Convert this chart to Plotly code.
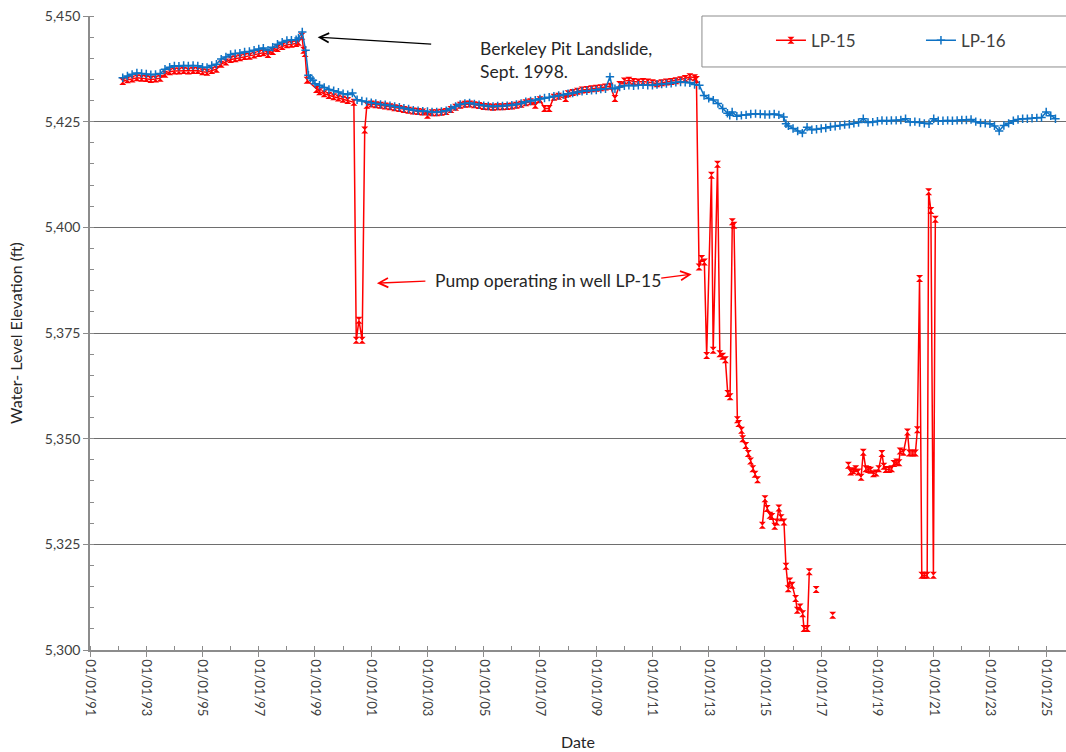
"""Water-level elevation history for wells LP-15 and LP-16."""

import plotly.graph_objects as go

# LP-15 (red) - None breaks the line where the record has gaps
lp15_dates = [
    "1992-03", "1992-05", "1992-07", "1992-09", "1992-11",
    "1993-01", "1993-03", "1993-05", "1993-07", "1993-09", "1993-11",
    "1994-01", "1994-03", "1994-05", "1994-07", "1994-09", "1994-11",
    "1995-01", "1995-03", "1995-05", "1995-07", "1995-09", "1995-11",
    "1996-01", "1996-03", "1996-05", "1996-07", "1996-09", "1996-11",
    "1997-01", "1997-03", "1997-05", "1997-07", "1997-09", "1997-11",
    "1998-01", "1998-03", "1998-05", "1998-06", "1998-07-15", "1998-08-07", "1998-08-25", "1998-09-20",
    "1999-01-20", "1999-03", "1999-05", "1999-07", "1999-09", "1999-11",
    "2000-01", "2000-03", "2000-05-20", "2000-06-20", "2000-07-25", "2000-09-05", "2000-10-08", "2000-11-05",
    "2001-01", "2001-03", "2001-05", "2001-07", "2001-09", "2001-11",
    "2002-01", "2002-03", "2002-05", "2002-07", "2002-09", "2002-11",
    "2003-01", "2003-03", "2003-05", "2003-07", "2003-09", "2003-11",
    "2004-01", "2004-03", "2004-05", "2004-07", "2004-09", "2004-11",
    "2005-01", "2005-03", "2005-05", "2005-07", "2005-09", "2005-11",
    "2006-01", "2006-03", "2006-05", "2006-07", "2006-09", "2006-11",
    "2007-01", "2007-03", "2007-05", "2007-07", "2007-09", "2007-12",
    "2008-01", "2008-03", "2008-05", "2008-07", "2008-09", "2008-11",
    "2009-01", "2009-03", "2009-05", "2009-07", "2009-09", "2009-11",
    "2010-01", "2010-03", "2010-05", "2010-07", "2010-09", "2010-11",
    "2011-01", "2011-03", "2011-05", "2011-07", "2011-09", "2011-11",
    "2012-01", "2012-03", "2012-05", "2012-07", "2012-07-25", "2012-08-28", "2012-10-01", "2012-11-05", "2012-12-05",
    "2013-02-05", "2013-02-28", "2013-04-25", "2013-05-25", "2013-07-01", "2013-08-05", "2013-09-05", "2013-10-05",
    "2013-11-03", "2013-11-25",
    "2014-01-08", "2014-01-26", "2014-03-03", "2014-03-18", "2014-04-27", "2014-05-30", "2014-06-28", "2014-07-27",
    "2014-08-25", "2014-09-27", "2014-10-20", "2014-11-28",
    "2015-01-01", "2015-01-30", "2015-03-08", "2015-04-02", "2015-05-08", "2015-06-03", "2015-07-01", "2015-07-30",
    "2015-09-05", "2015-10-01", "2015-10-30", "2015-11-20", "2015-12-20",
    "2016-02-03", "2016-02-25", "2016-04-01", "2016-05-05", "2016-05-22", "2016-07-05", "2016-07-30", "2016-09-01",
    "2016-10-27",
    "2017-01-01", "2017-05-30", "2017-09-01", "2017-12-20",
    "2018-01-18", "2018-02-20", "2018-03-25", "2018-04-26", "2018-06-03", "2018-07-01", "2018-08-03", "2018-09-05",
    "2018-10-05", "2018-11-10", "2018-12-15",
    "2019-01-18", "2019-02-28", "2019-03-25", "2019-04-20", "2019-05-30", "2019-07-05", "2019-08-03", "2019-09-08",
    "2019-10-08", "2019-10-22", "2019-12-05",
    "2020-01-26", "2020-02-20", "2020-04-01", "2020-05-08", "2020-06-03", "2020-07-01", "2020-07-30", "2020-09-01",
    "2020-10-08", "2020-10-27", "2020-11-25", "2020-12-28",
    "2021-01-22",
]
lp15_elev = [
    5434.5, 5434.9, 5435.1, 5435.4, 5435.3,
    5435.2, 5435.0, 5435.1, 5435.3, 5436.2, 5436.8,
    5437.0, 5437.0, 5437.1, 5437.0, 5437.1, 5437.1,
    5436.8, 5436.7, 5437.1, 5437.4, 5438.6, 5439.1,
    5439.7, 5439.9, 5440.1, 5440.4, 5440.5, 5440.8,
    5441.1, 5441.3, 5440.9, 5441.6, 5442.3, 5442.8,
    5443.2, 5443.3, 5443.5, 5443.8, 5445.2, 5441.9, 5441.1, 5434.8,
    5432.6, 5432.1, 5431.6, 5431.2, 5430.9, 5430.6,
    5430.3, 5430.0, 5429.6, 5373.3, 5378.0, 5373.3, 5423.0, 5428.9,
    5429.2, 5429.0, 5428.9, 5428.7, 5428.5, 5428.3,
    5428.1, 5427.9, 5427.7, 5427.5, 5427.4, 5427.3,
    5426.5, 5427.1, 5427.1, 5427.2, 5427.4, 5427.9,
    5428.4, 5428.9, 5429.1, 5429.2, 5429.0, 5428.8,
    5428.6, 5428.5, 5428.4, 5428.5, 5428.5, 5428.6,
    5428.7, 5428.9, 5429.1, 5429.5, 5429.7, 5428.9,
    5430.2, 5428.1, 5428.1, 5430.8, 5431.0, 5430.5,
    5431.6, 5431.9, 5432.2, 5432.5, 5432.6, 5432.8,
    5432.9, 5433.0, 5433.2, 5433.4, 5430.5, 5433.8,
    5434.6, 5434.8, 5434.5, 5434.4, 5434.5, 5434.4,
    5434.2, 5434.0, 5434.2, 5434.4, 5434.5, 5434.7,
    5434.9, 5435.2, 5435.6, 5435.4, 5435.0, 5390.6, 5392.6, 5391.8, 5369.7,
    5412.3, 5370.9, 5414.9, 5370.1, 5369.5, 5368.7, 5360.7, 5359.9,
    5401.3, 5400.5,
    5354.5, 5353.6, 5352.0, 5350.0, 5348.4, 5346.5, 5344.7, 5342.9,
    5341.6, 5340.3, None, 5329.5,
    5335.8, 5333.5, 5331.9, 5331.6, 5329.3, 5330.3, 5333.6, 5331.3,
    5330.3, 5319.8, 5314.5, 5316.3, 5315.3,
    5312.2, 5309.4, 5310.2, 5308.6, 5305.1, 5305.1, 5318.5, None,
    5314.3,
    None, 5308.2, None, 5343.7,
    5342.1, 5342.4, 5342.9, 5342.1, 5340.9, 5346.8, 5342.9, 5342.7,
    5342.5, 5341.7, 5341.9,
    5342.9, 5346.5, 5343.5, 5342.7, 5342.7, 5342.9, 5344.1, 5344.5,
    5344.3, 5347.1, 5346.8,
    5351.6, 5346.6, 5346.6, 5346.6, 5352.1, 5387.9, 5317.7, 5317.7,
    5317.7, 5408.4, 5404.0, 5317.7,
    5401.9,
]

# LP-16 (blue)
lp16_dates = [
    "1992-03", "1992-05", "1992-07", "1992-09", "1992-11",
    "1993-01", "1993-03", "1993-05", "1993-07", "1993-09", "1993-11",
    "1994-01", "1994-03", "1994-05", "1994-07", "1994-09", "1994-11",
    "1995-01", "1995-03", "1995-05", "1995-07", "1995-09", "1995-11",
    "1996-01", "1996-03", "1996-05", "1996-07", "1996-09", "1996-11",
    "1997-01", "1997-03", "1997-05", "1997-07", "1997-09", "1997-11",
    "1998-01", "1998-03", "1998-05", "1998-06", "1998-07-20", "1998-09-01", "1998-10-08", "1998-11-05", "1998-12-05",
    "1999-01", "1999-03", "1999-05", "1999-07", "1999-09", "1999-11",
    "2000-01", "2000-03", "2000-05", "2000-07", "2000-09", "2000-11",
    "2001-01", "2001-03", "2001-05", "2001-07", "2001-09", "2001-11",
    "2002-01", "2002-03", "2002-05", "2002-07", "2002-09", "2002-11",
    "2003-01", "2003-03", "2003-05", "2003-07", "2003-09", "2003-11",
    "2004-01", "2004-03", "2004-05", "2004-07", "2004-09", "2004-11",
    "2005-01", "2005-03", "2005-05", "2005-07", "2005-09", "2005-11",
    "2006-01", "2006-03", "2006-05", "2006-07", "2006-09", "2006-11",
    "2007-01", "2007-03", "2007-05", "2007-07", "2007-09", "2007-11",
    "2008-01", "2008-03", "2008-05", "2008-07", "2008-09", "2008-11",
    "2009-01", "2009-03", "2009-05", "2009-06-28", "2009-08-01", "2009-09", "2009-11",
    "2010-01", "2010-03", "2010-05", "2010-07", "2010-09", "2010-11",
    "2011-01", "2011-03", "2011-05", "2011-07", "2011-09", "2011-11",
    "2012-01", "2012-03", "2012-05", "2012-07", "2012-09", "2012-11",
    "2013-01", "2013-03", "2013-05", "2013-07", "2013-09", "2013-10", "2013-11",
    "2014-01", "2014-03", "2014-05", "2014-07", "2014-09", "2014-11",
    "2015-01", "2015-03", "2015-05", "2015-07", "2015-09", "2015-10", "2015-11",
    "2016-01", "2016-03", "2016-05", "2016-07", "2016-09", "2016-11",
    "2017-01", "2017-03", "2017-05", "2017-07", "2017-09", "2017-11",
    "2018-01", "2018-03", "2018-05", "2018-07", "2018-09", "2018-11",
    "2019-01", "2019-03", "2019-05", "2019-07", "2019-09", "2019-11",
    "2020-01", "2020-03", "2020-05", "2020-07", "2020-09", "2020-11",
    "2021-01", "2021-03", "2021-05", "2021-07", "2021-09", "2021-11",
    "2022-01", "2022-03", "2022-05", "2022-07", "2022-09", "2022-11",
    "2023-01", "2023-03", "2023-05", "2023-07", "2023-09", "2023-11",
    "2024-01", "2024-03", "2024-05", "2024-07", "2024-09", "2024-11",
    "2025-01", "2025-03", "2025-05",
]
lp16_elev = [
    5435.4, 5435.8, 5436.2, 5436.5, 5436.4,
    5436.3, 5436.1, 5436.2, 5436.4, 5437.4, 5437.9,
    5438.2, 5438.1, 5438.3, 5438.2, 5438.3, 5438.2,
    5437.9, 5437.8, 5438.3, 5438.6, 5439.8, 5440.3,
    5440.9, 5441.1, 5441.2, 5441.5, 5441.6, 5441.9,
    5442.2, 5442.4, 5441.9, 5442.6, 5443.3, 5443.8,
    5444.2, 5444.3, 5444.4, 5444.8, 5446.2, 5441.9, 5436.0, 5435.3, 5434.8,
    5434.0, 5433.6, 5433.1, 5432.6, 5432.3, 5432.0,
    5431.6, 5431.4, 5431.8, 5430.2, 5429.9, 5429.7,
    5429.5, 5429.3, 5429.1, 5429.0, 5428.8, 5428.6,
    5428.4, 5428.2, 5428.0, 5427.7, 5427.6, 5427.5,
    5427.4, 5427.3, 5427.3, 5427.4, 5427.6, 5428.1,
    5428.6, 5429.1, 5429.3, 5429.4, 5429.2, 5429.0,
    5428.8, 5428.7, 5428.6, 5428.7, 5428.7, 5428.8,
    5428.9, 5429.1, 5429.3, 5429.7, 5429.9, 5430.1,
    5430.4, 5430.6, 5430.8, 5431.0, 5431.2, 5431.4,
    5431.6, 5431.8, 5432.0, 5432.2, 5432.3, 5432.4,
    5432.5, 5432.7, 5432.8, 5435.6, 5432.9, 5432.8, 5433.2,
    5433.5, 5433.6, 5433.5, 5433.6, 5433.7, 5433.6,
    5433.6, 5433.8, 5433.9, 5434.0, 5434.1, 5434.3,
    5434.4, 5434.3, 5434.2, 5433.8, 5433.6, 5431.2,
    5430.5, 5430.1, 5429.3, 5428.1, 5427.0, 5426.5, 5427.3,
    5426.3, 5426.5, 5426.6, 5426.8, 5426.9, 5426.8,
    5426.7, 5426.7, 5426.8, 5426.6, 5426.1, 5424.5, 5424.0,
    5423.4, 5422.8, 5422.3, 5423.7, 5423.1, 5423.2,
    5423.4, 5423.5, 5423.8, 5423.9, 5424.1, 5424.3,
    5424.4, 5424.6, 5424.8, 5425.7, 5424.8, 5424.9,
    5425.1, 5425.3, 5425.2, 5425.3, 5425.3, 5425.4,
    5425.7, 5424.9, 5425.0, 5424.8, 5424.6, 5424.5,
    5425.7, 5425.2, 5425.2, 5425.3, 5425.2, 5425.3,
    5425.4, 5425.4, 5425.5, 5425.0, 5424.7, 5424.6,
    5424.5, 5424.0, 5422.8, 5424.1, 5424.6, 5425.2,
    5425.5, 5425.7, 5425.7, 5425.8, 5425.9, 5426.0,
    5427.3, 5426.4, 5425.7,
]

y_range = [5300, 5450]
x_range = ["1991-01-01", "2025-09-15"]

FONT = "Lato, 'Open Sans', sans-serif"
AXIS_GRAY = "#8c8c8c"
TEXT_GRAY = "#404040"

fig = go.Figure()
fig.add_trace(
    go.Scatter(
        x=lp15_dates,
        y=lp15_elev,
        mode="lines+markers",
        name="LP-15",
        legend="legend",
        showlegend=True,
        line=dict(color="#ff0000", width=1.5),
        marker=dict(symbol="hourglass", size=7, color="#ff0000"),
        connectgaps=False,
    )
)
fig.add_trace(
    go.Scatter(
        x=lp16_dates,
        y=lp16_elev,
        mode="lines+markers",
        name="LP-16",
        legend="legend2",
        showlegend=True,
        line=dict(color="#0e72c4", width=1.5),
        marker=dict(symbol="cross-thin", size=6, color="#0e72c4",
                    line=dict(color="#0e72c4", width=1.5)),
    )
)

# annotations: arrows and their labels
fig.add_annotation(x="1999-02-05", y=5445.0, ax=115, ay=7, text="", showarrow=True,
                   arrowhead=5, arrowsize=1.4, arrowwidth=1.3, arrowcolor="#000000")
fig.add_annotation(x="2004-10-15", y=5439.6, text="Berkeley Pit Landslide,<br>Sept. 1998.",
                   showarrow=False, xanchor="left", yanchor="middle", align="left",
                   font=dict(family=FONT, size=17.5, color="#262626"))
fig.add_annotation(x="2001-03-15", y=5386.8, ax=50, ay=-2, text="", showarrow=True,
                   arrowhead=5, arrowsize=1.4, arrowwidth=1.3, arrowcolor="#ff0000")
fig.add_annotation(x="2012-05-25", y=5388.9, ax=-32, ay=4, text="", showarrow=True,
                   arrowhead=5, arrowsize=1.4, arrowwidth=1.3, arrowcolor="#ff0000")
fig.add_annotation(x="2007-04-15", y=5387.5, text="Pump operating in well LP-15",
                   showarrow=False, xanchor="center", yanchor="middle",
                   font=dict(family=FONT, size=17.5, color="#262626"))

# legend frame (Excel-style box hanging from the top right)
fig.add_shape(type="rect", xref="paper", yref="paper", x0=0.627, x1=1.002, y0=0.9196, y1=1.0,
              line=dict(color=AXIS_GRAY, width=1), fillcolor="rgba(0,0,0,0)", layer="above")

legend_style = dict(
    orientation="h", y=0.961, xanchor="left", yanchor="middle",
    font=dict(family=FONT, size=17, color=TEXT_GRAY), bgcolor="rgba(0,0,0,0)",
)

fig.update_layout(
    width=1066,
    height=752,
    margin=dict(l=90, r=0, t=16, b=102),
    plot_bgcolor="white",
    paper_bgcolor="white",
    showlegend=True,
    font=dict(family=FONT, size=14, color=TEXT_GRAY),
    legend=dict(x=0.6977, **legend_style),
    legend2=dict(x=0.8514, **legend_style),
    xaxis=dict(
        type="date", range=x_range, tick0="1991-01-01", dtick="M24", automargin=False,
        tickformat="%m/%d/%y", tickangle=90, ticks="outside", ticklen=5,
        tickcolor=AXIS_GRAY, showline=True, linecolor=AXIS_GRAY, linewidth=1.5,
        showgrid=False, zeroline=False,
        minor=dict(dtick="M12", ticks="inside", ticklen=4, tickcolor=AXIS_GRAY, showgrid=False),
        tickfont=dict(family=FONT, size=13, color=TEXT_GRAY),
        title=dict(text="Date", standoff=21, font=dict(family=FONT, size=16, color="#262626")),
    ),
    yaxis=dict(
        range=y_range, dtick=25, tickformat=",d", ticks="outside", ticklen=5, automargin=False,
        tickcolor=AXIS_GRAY, showline=True, linecolor=AXIS_GRAY, linewidth=1.5,
        showgrid=True, gridcolor="#6e6e6e", gridwidth=1, zeroline=False,
        minor=dict(dtick=5, ticks="inside", ticklen=4, tickcolor=AXIS_GRAY, showgrid=False),
        tickfont=dict(family=FONT, size=14, color=TEXT_GRAY),
        title=dict(text="Water- Level Elevation (ft)", standoff=18,
                   font=dict(family=FONT, size=16, color="#262626")),
    ),
)

# the page's default 8px body margin would push the 1066x752 figure off the window
fig.write_html(
    "out.html",
    config={"displayModeBar": False},
    post_script="document.body.style.margin = '0';",
)
